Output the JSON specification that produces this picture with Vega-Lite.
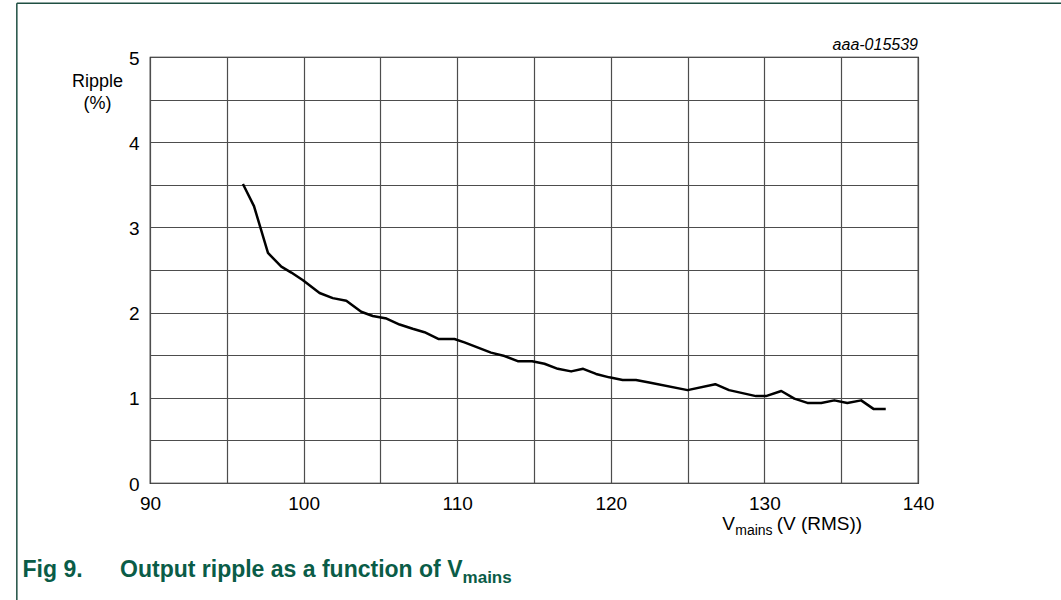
{
  "$schema": "https://vega.github.io/schema/vega-lite/v6.json",
  "width": 768,
  "height": 426,
  "autosize": "none",
  "padding": {"left": 150, "top": 57, "right": 143, "bottom": 117},
  "background": "white",
  "config": {
    "font": "Liberation Sans",
    "view": {"stroke": "#000000", "strokeWidth": 1.2},
    "axis": {"labelFont": "Liberation Sans", "titleFont": "Liberation Sans"}
  },
  "layer": [
    {
      "data": {
        "values": [
          {"v": 96.05, "r": 3.51},
          {"v": 96.77, "r": 3.25},
          {"v": 97.68, "r": 2.70},
          {"v": 98.55, "r": 2.54},
          {"v": 99.2, "r": 2.47},
          {"v": 99.96, "r": 2.38},
          {"v": 101.04, "r": 2.23},
          {"v": 101.9, "r": 2.17},
          {"v": 102.78, "r": 2.14},
          {"v": 103.75, "r": 2.01},
          {"v": 104.5, "r": 1.96},
          {"v": 105.4, "r": 1.93},
          {"v": 106.25, "r": 1.86},
          {"v": 107.1, "r": 1.81},
          {"v": 107.87, "r": 1.77},
          {"v": 108.8, "r": 1.69},
          {"v": 109.82, "r": 1.69},
          {"v": 110.47, "r": 1.65},
          {"v": 112.2, "r": 1.53},
          {"v": 113.08, "r": 1.49},
          {"v": 113.94, "r": 1.43},
          {"v": 114.88, "r": 1.43},
          {"v": 115.68, "r": 1.40},
          {"v": 116.55, "r": 1.34},
          {"v": 117.42, "r": 1.31},
          {"v": 118.2, "r": 1.34},
          {"v": 119.04, "r": 1.28},
          {"v": 119.9, "r": 1.24},
          {"v": 120.77, "r": 1.21},
          {"v": 121.64, "r": 1.21},
          {"v": 122.5, "r": 1.18},
          {"v": 125.0, "r": 1.09},
          {"v": 126.8, "r": 1.16},
          {"v": 127.7, "r": 1.09},
          {"v": 129.45, "r": 1.02},
          {"v": 130.1, "r": 1.02},
          {"v": 131.1, "r": 1.08},
          {"v": 131.95, "r": 0.99},
          {"v": 132.8, "r": 0.94},
          {"v": 133.7, "r": 0.94},
          {"v": 134.55, "r": 0.97},
          {"v": 135.4, "r": 0.94},
          {"v": 136.3, "r": 0.97},
          {"v": 137.1, "r": 0.87},
          {"v": 137.9, "r": 0.87}
        ]
      },
      "mark": {"type": "line", "color": "#000000", "strokeWidth": 2.5, "strokeJoin": "round"},
      "encoding": {
        "x": {
          "field": "v", "type": "quantitative",
          "scale": {"domain": [90, 140], "nice": false, "zero": false},
          "axis": {
            "values": [90, 95, 100, 105, 110, 115, 120, 125, 130, 135, 140],
            "labelExpr": "datum.value % 10 === 0 ? '' + datum.value : ''",
            "title": null,
            "domain": false,
            "ticks": false,
            "tickSize": 0,
            "labelPadding": 11,
            "labelFontSize": 19,
            "labelColor": "#000000",
            "labelFlush": false,
            "labelOverlap": false,
            "grid": true,
            "gridColor": "#4d4d4d",
            "gridWidth": 1.2
          }
        },
        "y": {
          "field": "r", "type": "quantitative",
          "scale": {"domain": [0, 5], "nice": false},
          "axis": {
            "values": [0, 0.5, 1, 1.5, 2, 2.5, 3, 3.5, 4, 4.5, 5],
            "labelExpr": "datum.value % 1 === 0 ? '' + datum.value : ''",
            "title": ["Ripple", "(%)"],
            "titleAngle": 0,
            "titleX": -53,
            "titleY": 29,
            "titleAlign": "center",
            "titleBaseline": "alphabetic",
            "titleFontSize": 18,
            "titleFontWeight": "normal",
            "titleColor": "#000000",
            "titleLineHeight": 22,
            "domain": false,
            "ticks": false,
            "tickSize": 0,
            "labelPadding": 11,
            "labelFontSize": 19,
            "labelColor": "#000000",
            "labelBaseline": "middle",
            "labelOffset": 1,
            "labelFlush": false,
            "labelOverlap": false,
            "grid": true,
            "gridColor": "#4d4d4d",
            "gridWidth": 1.2
          }
        }
      }
    },
    {
      "data": {"values": [{}]},
      "mark": {"type": "text", "align": "right", "baseline": "alphabetic", "fontStyle": "italic", "fontSize": 16, "color": "#000000", "dy": -7},
      "encoding": {"x": {"datum": 140}, "y": {"datum": 5}, "text": {"value": "aaa-015539"}}
    },
    {
      "data": {"values": [{}]},
      "mark": {"type": "text", "align": "left", "baseline": "alphabetic", "fontSize": 19, "color": "#000000"},
      "encoding": {"x": {"datum": 127.25}, "y": {"datum": -0.55}, "text": {"value": "V"}}
    },
    {
      "data": {"values": [{}]},
      "mark": {"type": "text", "align": "left", "baseline": "alphabetic", "fontSize": 14, "color": "#000000"},
      "encoding": {"x": {"datum": 128.1}, "y": {"datum": -0.61}, "text": {"value": "mains"}}
    },
    {
      "data": {"values": [{}]},
      "mark": {"type": "text", "align": "left", "baseline": "alphabetic", "fontSize": 19, "color": "#000000"},
      "encoding": {"x": {"datum": 130.8}, "y": {"datum": -0.55}, "text": {"value": "(V (RMS))"}}
    },
    {
      "data": {"values": [{}]},
      "mark": {"type": "text", "align": "left", "baseline": "alphabetic", "fontSize": 23, "fontWeight": "bold", "color": "#0a5c47"},
      "encoding": {"x": {"datum": 81.7}, "y": {"datum": -1.1}, "text": {"value": "Fig 9."}}
    },
    {
      "data": {"values": [{}]},
      "mark": {"type": "text", "align": "left", "baseline": "alphabetic", "fontSize": 23, "fontWeight": "bold", "color": "#0a5c47"},
      "encoding": {"x": {"datum": 88.05}, "y": {"datum": -1.1}, "text": {"value": "Output ripple as a function of V"}}
    },
    {
      "data": {"values": [{}]},
      "mark": {"type": "text", "align": "left", "baseline": "alphabetic", "fontSize": 17, "fontWeight": "bold", "color": "#0a5c47"},
      "encoding": {"x": {"datum": 110.35}, "y": {"datum": -1.17}, "text": {"value": "mains"}}
    },
    {
      "data": {"values": [{}]},
      "mark": {"type": "rule", "color": "#1f4f42", "strokeWidth": 1.5},
      "encoding": {"x": {"datum": 81.33}, "x2": {"datum": 160}, "y": {"datum": 5.63}}
    },
    {
      "data": {"values": [{}]},
      "mark": {"type": "rule", "color": "#1f4f42", "strokeWidth": 1.5},
      "encoding": {"x": {"datum": 81.33}, "y": {"datum": 5.63}, "y2": {"datum": -1.6}}
    }
  ]
}
